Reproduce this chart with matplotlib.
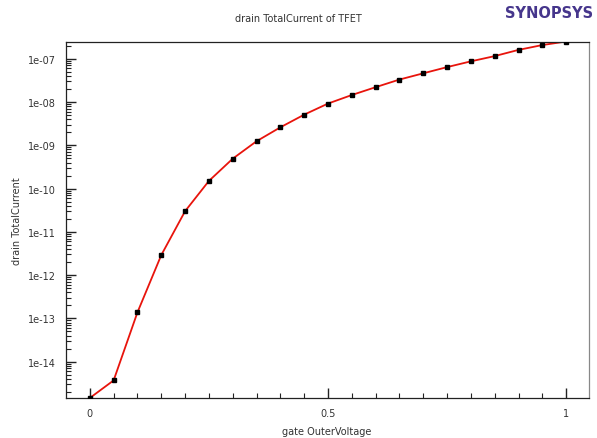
import matplotlib
matplotlib.use("Agg")
import matplotlib.pyplot as plt
from matplotlib.ticker import FixedLocator, LogLocator, NullFormatter

gate_voltage = [0.0, 0.05, 0.1, 0.15, 0.2, 0.25, 0.3, 0.35, 0.4, 0.45, 0.5,
                0.55, 0.6, 0.65, 0.7, 0.75, 0.8, 0.85, 0.9, 0.95, 1.0]
drain_current = [1.45e-15, 3.7e-15, 1.38e-13, 2.9e-12, 3.0e-11, 1.5e-10, 4.9e-10,
                 1.24e-9, 2.6e-9, 5.1e-9, 9.2e-9, 1.45e-8, 2.2e-8, 3.3e-8, 4.6e-8,
                 6.4e-8, 8.7e-8, 1.15e-7, 1.6e-7, 2.07e-7, 2.5e-7]
x_ticks = [0, 0.5, 1]
x_tick_labels = ["0", "0.5", "1"]
y_ticks = [1e-14, 1e-13, 1e-12, 1e-11, 1e-10, 1e-9, 1e-8, 1e-7]
y_tick_labels = ["1e-14", "1e-13", "1e-12", "1e-11", "1e-10", "1e-09", "1e-08", "1e-07"]

fig = plt.figure(figsize=(5.97, 4.39), dpi=100)
ax = fig.add_axes([66/597, 1 - 399/439, (589-66)/597, (399-42.5)/439])

ax.plot(gate_voltage, drain_current, color="#e8140c", lw=1.3, zorder=2)
ax.plot(gate_voltage, drain_current, ls="none", marker="s", ms=2.6, color="black", zorder=3)

ax.set_yscale("log")
ax.set_xlim(-0.05, 1.048)
ax.set_ylim(min(drain_current), max(drain_current))

ax.xaxis.set_major_locator(FixedLocator(x_ticks))
ax.set_xticklabels(x_tick_labels)
ax.xaxis.set_minor_locator(FixedLocator([i * 0.05 for i in range(21)]))
ax.yaxis.set_major_locator(FixedLocator(y_ticks))
ax.set_yticklabels(y_tick_labels)
ax.yaxis.set_minor_locator(LogLocator(base=10, subs=range(2, 10), numticks=20))
ax.yaxis.set_minor_formatter(NullFormatter())

ax.tick_params(axis="both", which="major", direction="in", length=7, width=1.0,
               labelsize=7, labelcolor="#333333", color="#222222", pad=7,
               top=False, right=False)
ax.tick_params(axis="both", which="minor", direction="in", length=3.5, width=0.8,
               color="#222222", top=False, right=False)

for side in ["left", "bottom", "top"]:
    ax.spines[side].set_color("#222222")
    ax.spines[side].set_linewidth(0.9)
ax.spines["right"].set_color("#888888")
ax.spines["right"].set_linewidth(0.9)

fig.text(327/597, 1 - 432/439, "gate OuterVoltage", ha="center", va="center",
         fontsize=7, color="#333333")
fig.text(17/597, 1 - 221/439, "drain TotalCurrent", ha="center", va="center",
         rotation=90, fontsize=7, color="#333333")
fig.text(0.5, 1 - 19/439, "drain TotalCurrent of TFET", ha="center", va="center",
         fontsize=7, color="#333333")
fig.text(0.993, 1 - 14/439, "SYNOPSYS", ha="right", va="center", fontsize=10.5,
         fontweight="bold", color="#46368c")

fig.savefig("out.png", dpi=100)
